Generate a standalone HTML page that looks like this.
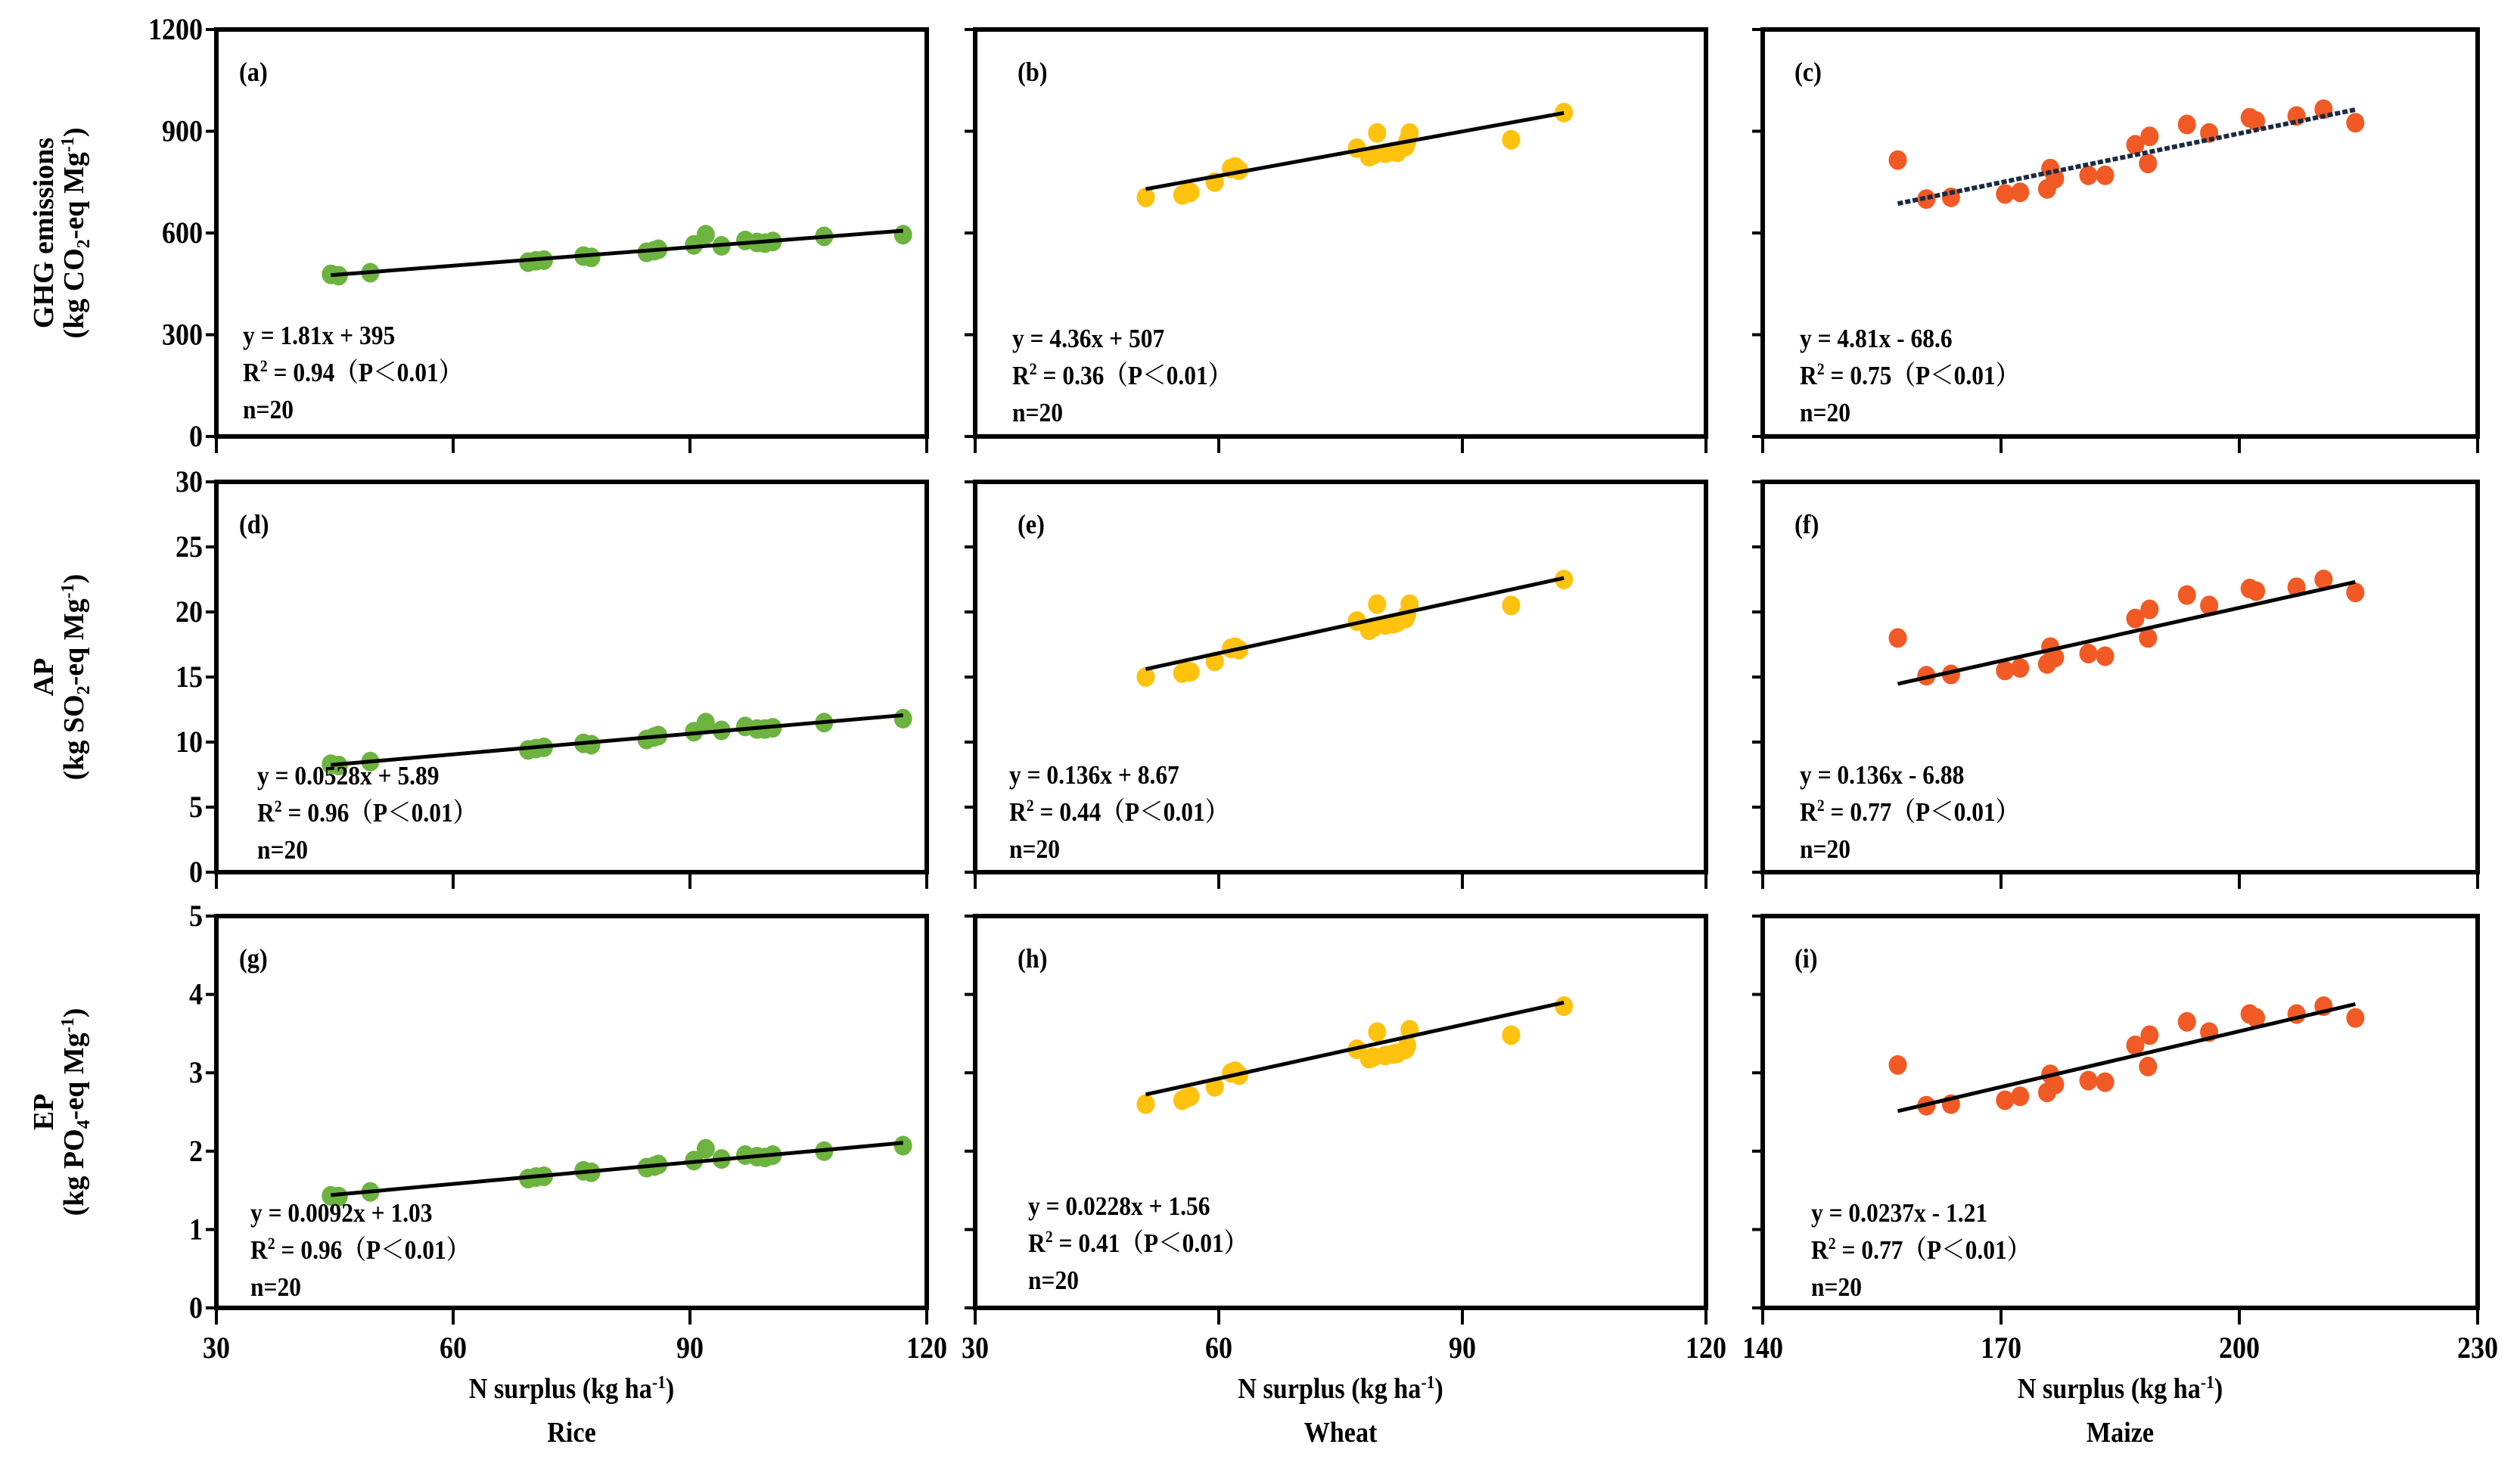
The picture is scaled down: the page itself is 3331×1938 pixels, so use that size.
<!DOCTYPE html>
<html><head><meta charset="utf-8">
<style>
html,body{margin:0;padding:0;background:#fff;}
svg{display:block;}
text{font-family:"Liberation Serif","Noto Serif CJK SC",serif;font-weight:bold;fill:#000;}
</style></head>
<body>
<svg id="fig" width="3331" height="1938" viewBox="0 0 3331 1938" xmlns="http://www.w3.org/2000/svg"></svg>
<script>
// ---- data ----
const riceX   = [44.5,45.5,49.5,69.5,70.5,71.5,76.5,77.5,84.5,85.5,86,90.5,92,94,97,98.5,99.5,100.5,107,117];
const riceGHG = [478,474,483,514,518,520,532,528,543,548,552,565,595,562,578,572,570,575,590,595];
const riceAP  = [8.3,8.2,8.5,9.4,9.5,9.6,9.9,9.8,10.2,10.4,10.5,10.8,11.5,10.9,11.2,11.0,11.0,11.1,11.5,11.8];
const riceEP  = [1.43,1.42,1.48,1.65,1.67,1.68,1.75,1.73,1.79,1.81,1.83,1.88,2.03,1.9,1.95,1.93,1.92,1.95,2.0,2.07];

const wheatX   = [51,55.5,56,56.5,59.5,61.5,62,62.5,77,78.5,79,79.5,80.5,81.5,82,83,83.5,96,102.5,83.2];
const wheatGHG = [705,712,718,720,750,790,795,785,850,825,830,895,835,840,838,855,895,875,955,870];
const wheatAP  = [15,15.3,15.4,15.4,16.2,17.2,17.3,17.1,19.3,18.6,18.8,20.6,19,19.1,19.2,19.5,20.6,20.5,22.5,19.8];
const wheatEP  = [2.6,2.65,2.68,2.7,2.82,3.0,3.02,2.97,3.3,3.18,3.2,3.52,3.22,3.24,3.25,3.3,3.55,3.48,3.85,3.35];

const maizeX   = [157,160.6,163.7,170.5,172.4,175.8,176.2,176.8,181,183.1,186.9,188.5,188.7,193.4,196.2,201.3,202.1,207.2,210.6,214.6];
const maizeGHG = [815,700,705,715,720,730,790,760,770,770,860,805,885,920,895,940,930,945,965,925];
const maizeAP  = [18,15.1,15.2,15.5,15.7,16,17.3,16.5,16.8,16.6,19.5,18,20.2,21.3,20.5,21.8,21.6,21.9,22.5,21.5];
const maizeEP  = [3.1,2.58,2.6,2.65,2.7,2.75,2.98,2.85,2.9,2.88,3.35,3.08,3.48,3.65,3.52,3.75,3.7,3.75,3.85,3.7];

const xTicksRiceWheat = [30,60,90,120];
const xTicksMaize = [140,170,200,230];
const yTicksGHG = [0,300,600,900,1200];
const yTicksAP = [0,5,10,15,20,25,30];
const yTicksEP = [0,1,2,3,4,5];

const slopes     = [1.81,4.36,4.81,0.0528,0.136,0.136,0.0092,0.0228,0.0237];
const intercepts = [395,507,-68.6,5.89,8.67,-6.88,1.03,1.56,-1.21];
const eqTexts = ["y = 1.81x + 395","y = 4.36x + 507","y = 4.81x - 68.6","y = 0.0528x + 5.89","y = 0.136x + 8.67","y = 0.136x - 6.88","y = 0.0092x + 1.03","y = 0.0228x + 1.56","y = 0.0237x - 1.21"];
const r2Texts = ["0.94","0.36","0.75","0.96","0.44","0.77","0.96","0.41","0.77"];
const panelLetters = ["(a)","(b)","(c)","(d)","(e)","(f)","(g)","(h)","(i)"];
const cropNames = ["Rice","Wheat","Maize"];

// ---- layout ----
const NS="http://www.w3.org/2000/svg";
const svg=document.getElementById('fig');
const cols=[{l:286,r:1225},{l:1289,r:2255},{l:2330,r:3275}];
const rows=[{t:39,b:577},{t:637,b:1153},{t:1211,b:1729}];
const colors=["#6db33f","#ffc20e","#f15a24"];
const xData=[riceX,wheatX,maizeX];
const yData=[[riceGHG,wheatGHG,maizeGHG],[riceAP,wheatAP,maizeAP],[riceEP,wheatEP,maizeEP]];
const yTickSets=[yTicksGHG,yTicksAP,yTicksEP];
const xTickSets=[xTicksRiceWheat,xTicksRiceWheat,xTicksMaize];
const eqOff=[[35,49,49],[54,45,49],[45,70,64]];
const eqBase=[[416,420,420],[400,399,399],[404,395,404]];

function el(tag,attrs,parent){const e=document.createElementNS(NS,tag);for(const k in attrs)e.setAttribute(k,attrs[k]);(parent||svg).appendChild(e);return e;}
// condensed text helper: place text at (x,y) scaled horizontally
function ctext(x,y,size,anchor,parent){
  return el('text',{x:0,y:0,transform:`translate(${x},${y}) scale(0.9,1)`,'font-size':size,'text-anchor':anchor||'start'},parent);
}

for(let ri=0;ri<3;ri++){
  for(let ci=0;ci<3;ci++){
    const idx=ri*3+ci;
    const c=cols[ci], r=rows[ri];
    const xt=xTickSets[ci], yt=yTickSets[ri];
    const xmin=xt[0], xmax=xt[xt.length-1], ymin=yt[0], ymax=yt[yt.length-1];
    const sx=v=>c.l+(v-xmin)/(xmax-xmin)*(c.r-c.l);
    const sy=v=>r.b-(v-ymin)/(ymax-ymin)*(r.b-r.t);
    const g=el('g',{});
    
    
    yt.forEach(v=>{
      const t=el('line',{x1:c.l-14,x2:c.l,y1:sy(v),y2:sy(v),stroke:'#000','stroke-width':4},g);
      
      
      if(ci===0){
        const tx=ctext(c.l-18,sy(v)+13,40,'end',g);
        tx.textContent=v;
        
        
      }
    });
    xt.forEach(v=>{
      const t=el('line',{x1:sx(v),x2:sx(v),y1:r.b,y2:r.b+22,stroke:'#000','stroke-width':4},g);
      
      
      if(ri===2){
        const tx=ctext(sx(v),1795,40,'middle',g);
        tx.textContent=v;
        
        
      }
    });
    const box=el('rect',{x:c.l,y:r.t,width:c.r-c.l,height:r.b-r.t,fill:'none',stroke:'#000','stroke-width':6},g);
    
    
    const xs=xData[ci], ys=yData[ri][ci];
    xs.forEach((xv,k)=>{
      const p=el('ellipse',{cx:sx(xv),cy:sy(ys[k]),rx:12,ry:13,fill:colors[ci]},g);
      
      
    });
    const x0=Math.min(...xs), x1=Math.max(...xs);
    const ln=el('line',{x1:sx(x0),y1:sy(slopes[idx]*x0+intercepts[idx]),x2:sx(x1),y2:sy(slopes[idx]*x1+intercepts[idx]),stroke:'#000','stroke-width':5},g);
    if(idx===2){ln.setAttribute('stroke','#1a2a44');ln.setAttribute('stroke-dasharray','7 3');ln.setAttribute('stroke-width','6');}
    
    
    const pl=ctext(c.l+(ci===0?30:(ci===1?56:42)),r.t+68,36,'start',g);
    pl.textContent=panelLetters[idx];
    
    
    const ex=c.l+eqOff[ri][ci], eb=r.t+eqBase[ri][ci];
    const t1=ctext(ex,eb,35,'start',g);
    t1.textContent=eqTexts[idx];
    
    
    const t2=ctext(ex,eb+49,35,'start',g);
    t2.innerHTML='R<tspan dy="-13" font-size="22">2</tspan><tspan dy="13"> = '+r2Texts[idx]+'（P＜0.01）</tspan>';
    
    
    const t3=ctext(ex,eb+98,35,'start',g);
    t3.textContent='n=20';
    
    
  }
  const cy=(rows[ri].t+rows[ri].b)/2;
  const titles=[["GHG emissions","(kg CO","2","-eq Mg","-1",")"],["AP","(kg SO","2","-eq Mg","-1",")"],["EP","(kg PO","4","-eq Mg","-1",")"]][ri];
  const yt1=el('text',{x:0,y:0,transform:`translate(70,${cy}) rotate(-90)`,'text-anchor':'middle','font-size':38});
  yt1.textContent=titles[0];
  
  
  const yt2=el('text',{x:0,y:0,transform:`translate(110,${cy}) rotate(-90)`,'text-anchor':'middle','font-size':38});
  yt2.innerHTML=titles[1]+'<tspan dy="8" font-size="24">'+titles[2]+'</tspan><tspan dy="-8">'+titles[3]+'</tspan><tspan dy="-13" font-size="24">'+titles[4]+'</tspan><tspan dy="13">'+titles[5]+'</tspan>';
  
  
}
for(let ci=0;ci<3;ci++){
  const cx=(cols[ci].l+cols[ci].r)/2;
  const xl=ctext(cx,1848,38,'middle');
  xl.innerHTML='N surplus (kg ha<tspan dy="-13" font-size="24">-1</tspan><tspan dy="13">)</tspan>';
  
  
  const cn=ctext(cx,1906,38,'middle');
  cn.textContent=cropNames[ci];
  
  
}
</script>
</body></html>
